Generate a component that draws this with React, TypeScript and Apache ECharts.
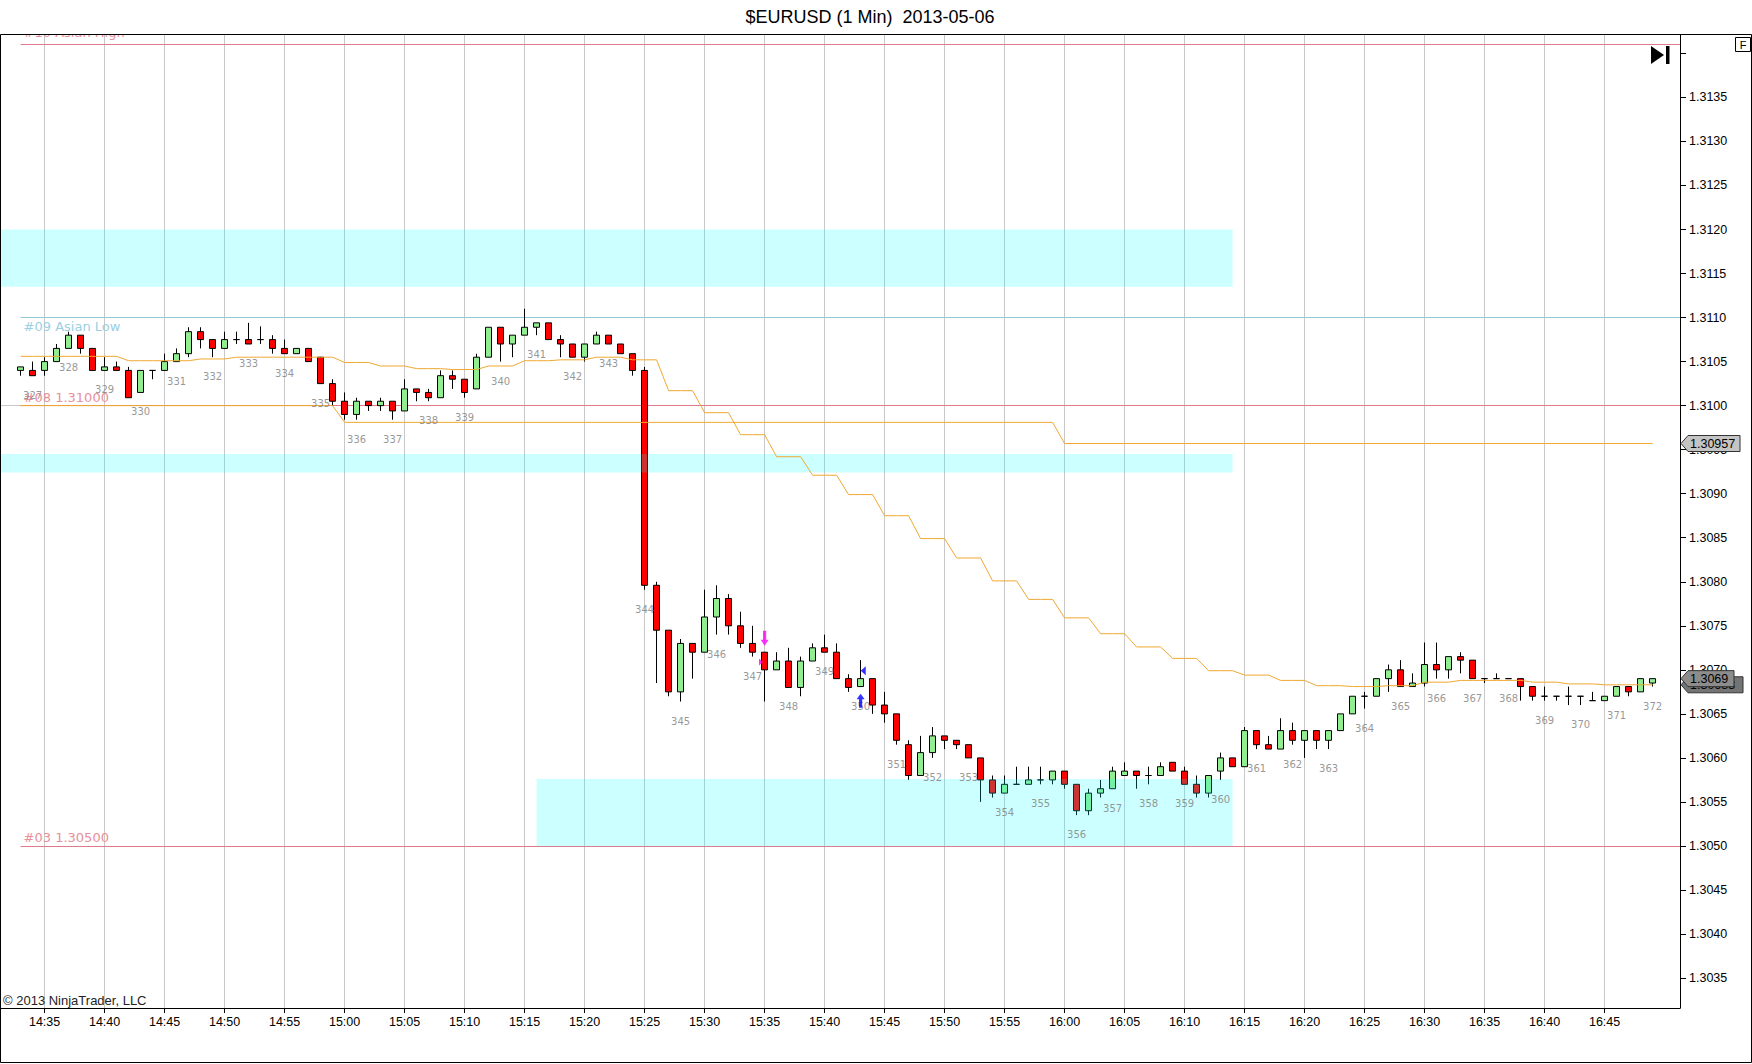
import { useEffect, useRef } from "react";
import * as echarts from "echarts";

// time, open, close, low, high
const candles: [string, number, number, number, number][] = [
  ["14:33", 1.3104, 1.31044, 1.31034, 1.31044],
  ["14:34", 1.3104, 1.31034, 1.31034, 1.3105],
  ["14:35", 1.3104, 1.3105, 1.31034, 1.31055],
  ["14:36", 1.3105, 1.31065, 1.3105, 1.3107],
  ["14:37", 1.31065, 1.3108, 1.31065, 1.31084],
  ["14:38", 1.3108, 1.31065, 1.31059, 1.3108],
  ["14:39", 1.31065, 1.3104, 1.3104, 1.31065],
  ["14:40", 1.3104, 1.31044, 1.3104, 1.31055],
  ["14:41", 1.31044, 1.3104, 1.3104, 1.3105],
  ["14:42", 1.3104, 1.31009, 1.31009, 1.31044],
  ["14:43", 1.31015, 1.3104, 1.31015, 1.3104],
  ["14:44", 1.3104, 1.3104, 1.3103, 1.3104],
  ["14:45", 1.3104, 1.3105, 1.3104, 1.31059],
  ["14:46", 1.3105, 1.31059, 1.3105, 1.31065],
  ["14:47", 1.31059, 1.31084, 1.31055, 1.31089],
  ["14:48", 1.31084, 1.31075, 1.31065, 1.31089],
  ["14:49", 1.31075, 1.31065, 1.31055, 1.31075],
  ["14:50", 1.31065, 1.31075, 1.31065, 1.31084],
  ["14:51", 1.31075, 1.31075, 1.3107, 1.31084],
  ["14:52", 1.31075, 1.3107, 1.3107, 1.31094],
  ["14:53", 1.31075, 1.31075, 1.3107, 1.3109],
  ["14:54", 1.31075, 1.31065, 1.31059, 1.3108],
  ["14:55", 1.31065, 1.31059, 1.31059, 1.31075],
  ["14:56", 1.31059, 1.31065, 1.31059, 1.31065],
  ["14:57", 1.31065, 1.3105, 1.3105, 1.31065],
  ["14:58", 1.31055, 1.31025, 1.31025, 1.31055],
  ["14:59", 1.31025, 1.31005, 1.31, 1.3103],
  ["15:00", 1.31005, 1.3099, 1.30984, 1.31015],
  ["15:01", 1.3099, 1.31005, 1.30984, 1.31009],
  ["15:02", 1.31005, 1.31, 1.30994, 1.31005],
  ["15:03", 1.31, 1.31005, 1.30994, 1.31009],
  ["15:04", 1.31005, 1.30994, 1.30984, 1.31005],
  ["15:05", 1.30994, 1.31019, 1.30994, 1.3103],
  ["15:06", 1.31019, 1.31015, 1.31005, 1.31019],
  ["15:07", 1.31015, 1.31009, 1.31005, 1.31019],
  ["15:08", 1.31009, 1.31034, 1.31009, 1.3104],
  ["15:09", 1.31034, 1.3103, 1.31019, 1.3104],
  ["15:10", 1.3103, 1.31015, 1.31009, 1.3103],
  ["15:11", 1.31019, 1.31055, 1.31019, 1.31059],
  ["15:12", 1.31055, 1.31089, 1.31055, 1.31089],
  ["15:13", 1.31089, 1.3107, 1.3105, 1.31089],
  ["15:14", 1.3107, 1.3108, 1.31055, 1.3108],
  ["15:15", 1.3108, 1.31089, 1.3108, 1.3111],
  ["15:16", 1.31089, 1.31094, 1.3108, 1.31094],
  ["15:17", 1.31094, 1.31075, 1.31075, 1.31094],
  ["15:18", 1.31075, 1.3107, 1.31055, 1.3108],
  ["15:19", 1.3107, 1.31055, 1.31055, 1.3107],
  ["15:20", 1.31055, 1.3107, 1.3105, 1.3107],
  ["15:21", 1.3107, 1.3108, 1.3107, 1.31084],
  ["15:22", 1.3108, 1.3107, 1.3107, 1.3108],
  ["15:23", 1.3107, 1.31059, 1.31059, 1.3107],
  ["15:24", 1.31059, 1.3104, 1.31034, 1.31059],
  ["15:25", 1.3104, 1.30796, 1.30791, 1.31044],
  ["15:26", 1.30796, 1.30745, 1.30685, 1.308],
  ["15:27", 1.30745, 1.30675, 1.3067, 1.30745],
  ["15:28", 1.30675, 1.3073, 1.30664, 1.30735],
  ["15:29", 1.3073, 1.3072, 1.3069, 1.3073],
  ["15:30", 1.3072, 1.3076, 1.3072, 1.30791],
  ["15:31", 1.3076, 1.30781, 1.3074, 1.30796],
  ["15:32", 1.30781, 1.3075, 1.3074, 1.30786],
  ["15:33", 1.3075, 1.3073, 1.30725, 1.30766],
  ["15:34", 1.3073, 1.3072, 1.30715, 1.3075],
  ["15:35", 1.3072, 1.307, 1.30664, 1.3072],
  ["15:36", 1.307, 1.3071, 1.307, 1.3072],
  ["15:37", 1.3071, 1.3068, 1.3068, 1.30725],
  ["15:38", 1.3068, 1.3071, 1.3067, 1.30715],
  ["15:39", 1.3071, 1.30725, 1.3071, 1.3073],
  ["15:40", 1.30725, 1.3072, 1.3072, 1.3074],
  ["15:41", 1.3072, 1.3069, 1.3069, 1.3073],
  ["15:42", 1.3069, 1.3068, 1.30675, 1.30695],
  ["15:43", 1.30681, 1.3069, 1.30681, 1.30711],
  ["15:44", 1.3069, 1.3066, 1.3065, 1.3069],
  ["15:45", 1.3066, 1.3065, 1.3064, 1.30675],
  ["15:46", 1.3065, 1.3062, 1.30615, 1.3065],
  ["15:47", 1.30615, 1.3058, 1.30575, 1.3062],
  ["15:48", 1.3058, 1.30606, 1.3058, 1.30625],
  ["15:49", 1.30606, 1.30625, 1.306, 1.30635],
  ["15:50", 1.30625, 1.3062, 1.3061, 1.30625],
  ["15:51", 1.3062, 1.30615, 1.3061, 1.3062],
  ["15:52", 1.30615, 1.306, 1.306, 1.30615],
  ["15:53", 1.306, 1.30575, 1.3055, 1.306],
  ["15:54", 1.30575, 1.3056, 1.30555, 1.3058],
  ["15:55", 1.3056, 1.3057, 1.3056, 1.3058],
  ["15:56", 1.3057, 1.3057, 1.3057, 1.3059],
  ["15:57", 1.3057, 1.30575, 1.3057, 1.3059],
  ["15:58", 1.30575, 1.30575, 1.3057, 1.3059],
  ["15:59", 1.30575, 1.30585, 1.3057, 1.30585],
  ["16:00", 1.30585, 1.3057, 1.30565, 1.30585],
  ["16:01", 1.3057, 1.3054, 1.30535, 1.3057],
  ["16:02", 1.3054, 1.3056, 1.30535, 1.30565],
  ["16:03", 1.3056, 1.30565, 1.30555, 1.30575],
  ["16:04", 1.30565, 1.30585, 1.30565, 1.3059],
  ["16:05", 1.3058, 1.30585, 1.3058, 1.30595],
  ["16:06", 1.30585, 1.3058, 1.30565, 1.30585],
  ["16:07", 1.3058, 1.3058, 1.3057, 1.3059],
  ["16:08", 1.3058, 1.3059, 1.3058, 1.30595],
  ["16:09", 1.30595, 1.30585, 1.30585, 1.30595],
  ["16:10", 1.30585, 1.3057, 1.3057, 1.3059],
  ["16:11", 1.3057, 1.3056, 1.30555, 1.3058],
  ["16:12", 1.3056, 1.3058, 1.30555, 1.3058],
  ["16:13", 1.30585, 1.306, 1.30575, 1.30606],
  ["16:14", 1.306, 1.3059, 1.3059, 1.306],
  ["16:15", 1.3059, 1.30631, 1.3059, 1.30635],
  ["16:16", 1.30631, 1.30615, 1.3061, 1.30631],
  ["16:17", 1.30615, 1.3061, 1.3061, 1.30625],
  ["16:18", 1.3061, 1.30631, 1.3061, 1.30645],
  ["16:19", 1.30631, 1.3062, 1.30615, 1.3064],
  ["16:20", 1.3062, 1.30631, 1.306, 1.30631],
  ["16:21", 1.30631, 1.3062, 1.3061, 1.30631],
  ["16:22", 1.3062, 1.30631, 1.3061, 1.30631],
  ["16:23", 1.30631, 1.3065, 1.30631, 1.3065],
  ["16:24", 1.3065, 1.3067, 1.3065, 1.3067],
  ["16:25", 1.3067, 1.3067, 1.30656, 1.30675],
  ["16:26", 1.3067, 1.3069, 1.3067, 1.3069],
  ["16:27", 1.3069, 1.307, 1.30675, 1.30706],
  ["16:28", 1.307, 1.30681, 1.30681, 1.30711],
  ["16:29", 1.30681, 1.30685, 1.30681, 1.30696],
  ["16:30", 1.30685, 1.30706, 1.30681, 1.30731],
  ["16:31", 1.30706, 1.307, 1.3069, 1.30731],
  ["16:32", 1.307, 1.30715, 1.3069, 1.30715],
  ["16:33", 1.30715, 1.30711, 1.30696, 1.3072],
  ["16:34", 1.30711, 1.3069, 1.3069, 1.30711],
  ["16:35", 1.3069, 1.3069, 1.30685, 1.3069],
  ["16:36", 1.3069, 1.3069, 1.3069, 1.30696],
  ["16:37", 1.3069, 1.3069, 1.3069, 1.3069],
  ["16:38", 1.3069, 1.30681, 1.30665, 1.3069],
  ["16:39", 1.30681, 1.3067, 1.30665, 1.30681],
  ["16:40", 1.3067, 1.3067, 1.30665, 1.30681],
  ["16:41", 1.3067, 1.3067, 1.30665, 1.3067],
  ["16:42", 1.3067, 1.3067, 1.3066, 1.30681],
  ["16:43", 1.3067, 1.3067, 1.3066, 1.3067],
  ["16:44", 1.30665, 1.30665, 1.30665, 1.30675],
  ["16:45", 1.30665, 1.3067, 1.30665, 1.3067],
  ["16:46", 1.3067, 1.30681, 1.3067, 1.30681],
  ["16:47", 1.30681, 1.30675, 1.3067, 1.30681],
  ["16:48", 1.30675, 1.3069, 1.30675, 1.3069],
  ["16:49", 1.30685, 1.3069, 1.30681, 1.3069],
];

// upper orange band, one value per bar
const upperBand = [
  1.31056, 1.31056, 1.31056, 1.31056, 1.31056, 1.31056, 1.31056, 1.31056, 1.31056,
  1.31051, 1.31051, 1.31051, 1.31051, 1.31051, 1.31051,
  1.31053, 1.31053, 1.31053,
  1.31055, 1.31055, 1.31055, 1.31055, 1.31055, 1.31055, 1.31055, 1.31055, 1.31055,
  1.31049, 1.31049, 1.31049,
  1.31045, 1.31045, 1.31045,
  1.31042, 1.31042, 1.31042,
  1.31041, 1.31041, 1.31041,
  1.31045, 1.31045, 1.31045,
  1.31051, 1.31051, 1.31051,
  1.31052, 1.31052, 1.31052,
  1.31055, 1.31055, 1.31055,
  1.31052, 1.31052, 1.31052,
  1.31017, 1.31017, 1.31017,
  1.30992, 1.30992, 1.30992,
  1.30967, 1.30967, 1.30967,
  1.30942, 1.30942, 1.30942,
  1.30921, 1.30921, 1.30921,
  1.30899, 1.30899, 1.30899,
  1.30875, 1.30875, 1.30875,
  1.30849, 1.30849, 1.30849,
  1.30827, 1.30827, 1.30827,
  1.30801, 1.30801, 1.30801,
  1.3078, 1.3078, 1.3078,
  1.30759, 1.30759, 1.30759,
  1.30741, 1.30741, 1.30741,
  1.30726, 1.30726, 1.30726,
  1.30713, 1.30713, 1.30713,
  1.30699, 1.30699, 1.30699,
  1.30694, 1.30694, 1.30694,
  1.30688, 1.30688, 1.30688,
  1.30682, 1.30682, 1.30682,
  1.30681, 1.30681, 1.30681,
  1.30682, 1.30682, 1.30682,
  1.30686, 1.30686, 1.30686,
  1.30688, 1.30688, 1.30688,
  1.30688, 1.30688, 1.30688,
  1.30686, 1.30686, 1.30686,
  1.30684, 1.30684, 1.30684,
  1.30683, 1.30683, 1.30683,
  1.30683, 1.30683,
];

// lower orange band, vertices of the step line
const lowerBand: [string, number][] = [
  ["14:33", 1.31], ["14:59", 1.31],
  ["15:00", 1.30981], ["15:59", 1.30981],
  ["16:00", 1.30957], ["16:49", 1.30957],
];

const barCounts: [string, number][] = [
  ["14:34", 327], ["14:37", 328], ["14:40", 329], ["14:43", 330], ["14:46", 331],
  ["14:49", 332], ["14:52", 333], ["14:55", 334], ["14:58", 335], ["15:01", 336],
  ["15:04", 337], ["15:07", 338], ["15:10", 339], ["15:13", 340], ["15:16", 341],
  ["15:19", 342], ["15:22", 343], ["15:25", 344], ["15:28", 345], ["15:31", 346],
  ["15:34", 347], ["15:37", 348], ["15:40", 349], ["15:43", 350], ["15:46", 351],
  ["15:49", 352], ["15:52", 353], ["15:55", 354], ["15:58", 355], ["16:01", 356],
  ["16:04", 357], ["16:07", 358], ["16:10", 359], ["16:13", 360], ["16:16", 361],
  ["16:19", 362], ["16:22", 363], ["16:25", 364], ["16:28", 365], ["16:31", 366],
  ["16:34", 367], ["16:37", 368], ["16:40", 369], ["16:43", 370], ["16:46", 371],
  ["16:49", 372],
];

const levels = [
  { text: "#10 Asian High", price: 1.3141, line: "#e07a8a", color: "#e8909a", below: false, gap: 6 },
  { text: "#09 Asian Low", price: 1.311, line: "#92c8da", color: "#9ccfe0", below: true, gap: 2 },
  { text: "#08 1.31000", price: 1.31, line: "#e07a8a", color: "#e8909a", below: false, gap: 2 },
  { text: "#03 1.30500", price: 1.305, line: "#e07a8a", color: "#e8909a", below: false, gap: 2 },
];

// null start = zone begins before the visible range
const zones: { from: string | null; to: string; top: number; bottom: number }[] = [
  { from: null, to: "16:14", top: 1.312, bottom: 1.31135 },
  { from: null, to: "16:14", top: 1.30945, bottom: 1.30924 },
  { from: "15:16", to: "16:14", top: 1.30576, bottom: 1.305 },
];

// trade markers: time (fractional minute), price
const shortArrows: [number, number][] = [[95, 1.30736]];
const longArrows: [number, number][] = [[103, 1.30665]];
const entryTicks: [number, number][] = [[94.7, 1.30709]];
const exitTicks: [number, number][] = [[103.22, 1.30699]];

const timeTicks = [
  "14:35", "14:40", "14:45", "14:50", "14:55", "15:00", "15:05", "15:10", "15:15",
  "15:20", "15:25", "15:30", "15:35", "15:40", "15:45", "15:50", "15:55", "16:00",
  "16:05", "16:10", "16:15", "16:20", "16:25", "16:30", "16:35", "16:40", "16:45",
];
const priceLabels = [
  1.3035, 1.304, 1.3045, 1.305, 1.3055, 1.306, 1.3065, 1.307, 1.3075, 1.308, 1.3085,
  1.309, 1.3095, 1.31, 1.3105, 1.311, 1.3115, 1.312, 1.3125, 1.313, 1.3135,
];
const priceTickMarks = [...priceLabels, 1.314];
const gridPrices = [1.3035, 1.305, 1.3065, 1.308, 1.3095, 1.311, 1.3125, 1.314];

const X_MIN = 31.367;
const X_MAX = 171.283;
const Y_MIN = 1.30316;
const Y_MAX = 1.31422;

const AXIS_FONT = '"Liberation Sans", Arial, sans-serif';
const NOTE_FONT = '"DejaVu Sans", Verdana, sans-serif';

function toX(t: string) {
  const [h, m] = t.split(":").map(Number);
  return (h - 14) * 60 + m;
}

function fmtTime(v: number) {
  const h = 14 + Math.floor(v / 60);
  const m = Math.round(v - (h - 14) * 60);
  return `${h}:${String(m).padStart(2, "0")}`;
}

const tickSet = new Set(timeTicks.map(toX));
const labelSet = new Set(priceLabels.map((p) => p.toFixed(4)));

function buildOption(): any {
  const lowAt = new Map(candles.map((c) => [c[0], c[3]]));
  const firstX = toX(candles[0][0]);

  return {
    animation: false,
    backgroundColor: "#ffffff",
    grid: { left: 1, right: 72, top: 34, bottom: 56 },
    xAxis: {
      type: "value",
      min: X_MIN,
      max: X_MAX,
      splitNumber: 28,
      axisLine: { show: true, lineStyle: { color: "#000" } },
      axisTick: { show: true, length: 5, lineStyle: { color: "#000" }, customValues: timeTicks.map(toX) },
      axisLabel: {
        customValues: timeTicks.map(toX),
        margin: 7,
        color: "#000",
        fontSize: 12.5,
        fontFamily: AXIS_FONT,
        formatter: (v: number) => (tickSet.has(v) ? fmtTime(v) : ""),
      },
      splitLine: { show: false },
    },
    yAxis: {
      type: "value",
      position: "right",
      min: Y_MIN,
      max: Y_MAX,
      splitNumber: 22,
      axisLine: { show: true, lineStyle: { color: "#000" } },
      axisTick: { show: true, length: 6, lineStyle: { color: "#000" }, customValues: priceTickMarks },
      axisLabel: {
        customValues: priceLabels,
        margin: 9,
        color: "#000",
        fontSize: 12.5,
        fontFamily: AXIS_FONT,
        formatter: (v: number) => (labelSet.has(v.toFixed(4)) ? v.toFixed(4) : ""),
      },
      splitLine: { show: false },
    },
    series: [
      {
        type: "line",
        name: "grid",
        data: [],
        silent: true,
        markLine: {
          silent: true,
          z: 1,
          symbol: ["none", "none"],
          label: { show: false },
          lineStyle: { color: "#c8c8c8", width: 1, type: "solid" },
          data: [
            ...gridPrices.map((p) => ({ yAxis: p })),
            ...timeTicks.map((t) => ({ xAxis: toX(t) })),
          ],
        },
      },
      {
        type: "line",
        name: "levels",
        data: [],
        silent: true,
        markLine: {
          silent: true,
          z: 1,
          symbol: ["none", "none"],
          data: levels.map((l) => [
            {
              coord: [firstX, l.price],
              lineStyle: { color: l.line, width: 1, type: "solid" },
              label: {
                show: true,
                formatter: l.text,
                position: l.below ? "insideStartBottom" : "insideStartTop",
                distance: [3, l.gap],
                color: l.color,
                fontSize: 13,
                fontFamily: NOTE_FONT,
              },
            },
            { coord: [X_MAX, l.price] },
          ]),
        },
      },
      {
        type: "candlestick",
        name: "EURUSD",
        silent: true,
        z: 2,
        barWidth: 7,
        data: candles.map((c) => [toX(c[0]), c[1], c[2], c[3], c[4]]),
        itemStyle: {
          color: "#90ee90",
          color0: "#ff0000",
          borderColor: "#000000",
          borderColor0: "#000000",
          borderWidth: 1,
        },
      },
      {
        type: "line",
        name: "zones",
        data: [],
        silent: true,
        markArea: {
          silent: true,
          z: 3,
          itemStyle: { color: "rgba(0,255,255,0.2)" },
          data: zones.map((zn) => [
            { coord: [zn.from ? toX(zn.from) : X_MIN, zn.top] },
            { coord: [toX(zn.to), zn.bottom] },
          ]),
        },
      },
      {
        type: "line",
        name: "upper",
        z: 4,
        silent: true,
        showSymbol: false,
        data: candles.map((c, i) => [toX(c[0]), upperBand[i]]),
        lineStyle: { color: "#f0a830", width: 1 },
      },
      {
        type: "line",
        name: "lower",
        z: 4,
        silent: true,
        showSymbol: false,
        data: lowerBand.map(([t, p]) => [toX(t), p]),
        lineStyle: { color: "#f0a830", width: 1 },
      },
      {
        type: "scatter",
        name: "counts",
        z: 5,
        silent: true,
        symbolSize: 1,
        itemStyle: { color: "rgba(0,0,0,0)" },
        data: barCounts.map(([t, n]) => [toX(t), lowAt.get(t), n]),
        label: {
          show: true,
          position: "bottom",
          distance: 14,
          formatter: (p: any) => String(p.value[2]),
          color: "#7c7c7c",
          fontSize: 10,
          fontFamily: NOTE_FONT,
        },
      },
      {
        type: "scatter",
        name: "trades",
        z: 6,
        silent: true,
        data: [
          ...shortArrows.map((v) => ({
            value: v,
            symbol: "path://M3,0L7,0L7,9L10,9L5,15L0,9L3,9Z",
            symbolSize: [8, 15],
            itemStyle: { color: "#ff00ff" },
          })),
          ...longArrows.map((v) => ({
            value: v,
            symbol: "path://M5,0L10,6L7,6L7,15L3,15L3,6L0,6Z",
            symbolSize: [8, 14],
            itemStyle: { color: "#0000ff" },
          })),
          ...entryTicks.map((v) => ({
            value: v,
            symbol: "path://M0,0L6,4L0,8Z",
            symbolSize: [4, 7],
            itemStyle: { color: "#ff00ff" },
          })),
          ...exitTicks.map((v) => ({
            value: v,
            symbol: "path://M6,0L6,10L0,5Z",
            symbolSize: [5, 9],
            itemStyle: { color: "#0000ff" },
          })),
        ],
      },
    ],
  };
}

function priceBox(id: string, y: number, text: string, right: number, fill: string, z: number) {
  return [
    {
      type: "polygon",
      id: id + "-box",
      z,
      silent: true,
      shape: { points: [[1681, y], [1688, y - 8], [right, y - 8], [right, y + 8], [1688, y + 8]] },
      style: { fill, stroke: "#333", lineWidth: 1 },
    },
    {
      type: "text",
      id: id + "-txt",
      z: z + 1,
      silent: true,
      x: 1690,
      y,
      style: { text, fill: "#000", font: `12.5px ${AXIS_FONT}`, verticalAlign: "middle", align: "left" },
    },
  ];
}

function buildGraphics(chart: echarts.ECharts): any[] {
  const yOf = (p: number) => (chart.convertToPixel({ gridIndex: 0 }, [X_MAX, p]) as number[])[1];
  const last = candles[candles.length - 1];
  const lowerLast = lowerBand[lowerBand.length - 1][1];
  const upperLast = upperBand[upperBand.length - 1];

  return [
    { type: "rect", id: "cover", z: 100, silent: true, shape: { x: 0, y: 0, width: 1752, height: 34 }, style: { fill: "#fff" } },
    {
      type: "rect",
      id: "frame",
      z: 101,
      silent: true,
      shape: { x: 0.5, y: 34.5, width: 1751, height: 1028 },
      style: { fill: "none", stroke: "#000", lineWidth: 1 },
    },
    {
      type: "text",
      id: "title",
      z: 102,
      x: 870,
      y: 17,
      style: { text: "$EURUSD (1 Min)  2013-05-06", fill: "#000", font: `18px ${AXIS_FONT}`, align: "center", verticalAlign: "middle" },
    },
    {
      type: "rect",
      id: "fbox",
      z: 102,
      shape: { x: 1735.5, y: 37.5, width: 15, height: 14 },
      style: { fill: "#fff", stroke: "#000", lineWidth: 1 },
    },
    {
      type: "text",
      id: "ftxt",
      z: 103,
      x: 1743,
      y: 44.5,
      style: { text: "F", fill: "#000", font: `11px ${AXIS_FONT}`, align: "center", verticalAlign: "middle" },
    },
    { type: "polygon", id: "play", z: 102, shape: { points: [[1651, 46], [1651, 64], [1664, 55]] }, style: { fill: "#000" } },
    { type: "rect", id: "playbar", z: 102, shape: { x: 1666, y: 46, width: 3.5, height: 18 }, style: { fill: "#000" } },
    {
      type: "text",
      id: "copy",
      z: 102,
      x: 3,
      y: 1000,
      style: { text: "© 2013 NinjaTrader, LLC", fill: "#222", font: `13px ${AXIS_FONT}`, verticalAlign: "middle" },
    },
    ...priceBox("lower", yOf(lowerLast), lowerLast.toFixed(5), 1740, "#c4c4c4", 104),
    ...priceBox("upper", yOf(upperLast), upperLast.toFixed(5), 1743, "#747474", 106),
    ...priceBox("close", yOf(last[2]), last[2].toFixed(4), 1734, "#8c8c8c", 108),
  ];
}

export default function App() {
  const ref = useRef<HTMLDivElement | null>(null);

  useEffect(() => {
    if (!ref.current) return;
    document.body.style.margin = "0";
    const chart = echarts.init(ref.current, null, { renderer: "svg" });
    chart.setOption(buildOption());
    chart.setOption({ graphic: buildGraphics(chart) });

    return () => {
      chart.dispose();
    };
  }, []);

  return (
    <div
      ref={ref}
      style={{ position: "absolute", left: 0, top: 0, width: 1752, height: 1064, background: "#fff" }}
    />
  );
}
